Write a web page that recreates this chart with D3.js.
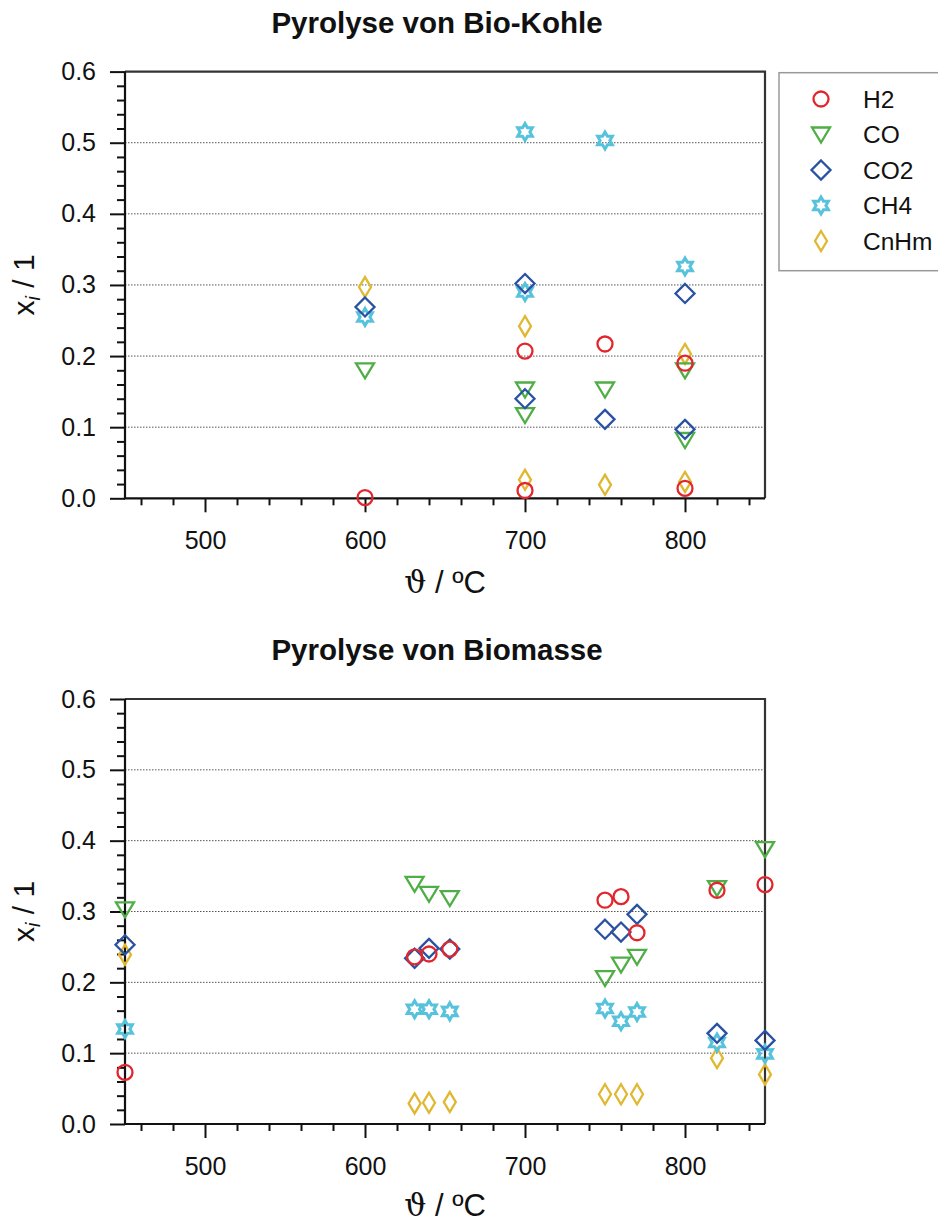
<!DOCTYPE html>
<html>
<head>
<meta charset="utf-8">
<script src="https://cdn.jsdelivr.net/npm/d3@7"></script>
<style>
  body { margin: 0; background: #fff; }
  text { font-family: Arial, "Liberation Sans", sans-serif; fill: #111; }
</style>
</head>
<body>
<div id="chart"></div>
<script>
// gas species and colours
var species = ['H2', 'CO', 'CO2', 'CH4', 'CnHm']
var colors = ['#e3262d', '#4fae45', '#2a52a3', '#56c2dc', '#e0b830']

var yTicks = [0.0, 0.1, 0.2, 0.3, 0.4, 0.5, 0.6]
var xTicks = [500, 600, 700, 800]

// Pyrolyse von Bio-Kohle  [temperature, x_i]
var kohleH2 = [[600, 0.001], [700, 0.207], [700, 0.011], [750, 0.217], [800, 0.190], [800, 0.014]]
var kohleCO = [[600, 0.180], [700, 0.153], [700, 0.117], [750, 0.153], [800, 0.180], [800, 0.082]]
var kohleCO2 = [[600, 0.269], [700, 0.302], [700, 0.140], [750, 0.111], [800, 0.288], [800, 0.097]]
var kohleCH4 = [[600, 0.255], [700, 0.515], [700, 0.290], [750, 0.503], [800, 0.326]]
var kohleCnHm = [[600, 0.297], [700, 0.242], [700, 0.026], [750, 0.019], [800, 0.203], [800, 0.023]]

// Pyrolyse von Biomasse
var massH2 = [[450, 0.073], [631, 0.236], [640, 0.240], [653, 0.247], [750, 0.316], [760, 0.321], [770, 0.270], [820, 0.330], [850, 0.338]]
var massCO = [[450, 0.303], [631, 0.339], [640, 0.325], [653, 0.319], [750, 0.206], [760, 0.225], [770, 0.236], [820, 0.333], [850, 0.388]]
var massCO2 = [[450, 0.253], [631, 0.234], [640, 0.248], [653, 0.247], [750, 0.275], [760, 0.271], [770, 0.296], [820, 0.128], [850, 0.118]]
var massCH4 = [[450, 0.134], [631, 0.162], [640, 0.162], [653, 0.159], [750, 0.163], [760, 0.145], [770, 0.158], [820, 0.115], [850, 0.099]]
var massCnHm = [[450, 0.239], [631, 0.029], [640, 0.030], [653, 0.031], [750, 0.042], [760, 0.042], [770, 0.042], [820, 0.093], [850, 0.070]]

var W = 938, H = 1225
var svg = d3.select('#chart').append('svg').attr('width', W).attr('height', H)

// marker shapes, centred on 0,0
function marker(name) {
  if (name == 'H2') return d3.symbol().type(d3.symbolCircle).size(Math.PI * 7.5 * 7.5)()
  if (name == 'CO') return 'M-9,-7L9,-7L0,8Z'
  if (name == 'CO2') return 'M0,-9.5L9.5,0L0,9.5L-9.5,0Z'
  if (name == 'CnHm') return 'M0,-10L6,0L0,10L-6,0Z'
  // hexagram
  var pts = []
  for (var k = 0; k < 12; k++) {
    var a = -Math.PI / 2 + k * Math.PI / 6
    var r = k % 2 == 0 ? 8.5 : 4.9
    pts.push([r * Math.cos(a), r * Math.sin(a)])
  }
  return 'M' + pts.join('L') + 'Z'
}

function panel(top, bottom, title, data, xlOff) {
  var left = 125, right = 765
  var x = d3.scaleLinear().domain([450, 850]).range([left, right])
  var y = d3.scaleLinear().domain([0, 0.6]).range([bottom, top])
  var g = svg.append('g')

  // dotted grid
  g.selectAll('line.grid').data(yTicks.slice(1, 6)).enter().append('line')
    .attr('x1', left).attr('x2', right)
    .attr('y1', function (d) { return y(d) }).attr('y2', function (d) { return y(d) })
    .attr('stroke', '#555').attr('stroke-width', 1).attr('stroke-dasharray', '1.5,1.5')

  // minor ticks
  var yMinor = d3.range(0, 0.601, 0.02).filter(function (d) { return Math.abs(d * 10 - Math.round(d * 10)) > 0.01 })
  g.append('g').attr('transform', 'translate(' + left + ',0)')
    .call(d3.axisLeft(y).tickValues(yMinor).tickSize(8).tickFormat(''))
  var xMinor = d3.range(460, 850, 20).filter(function (d) { return d % 100 != 0 })
  g.append('g').attr('transform', 'translate(0,' + bottom + ')')
    .call(d3.axisBottom(x).tickValues(xMinor).tickSize(7).tickFormat(''))

  // major ticks
  g.append('g').attr('class', 'ya').attr('transform', 'translate(' + left + ',0)')
    .call(d3.axisLeft(y).tickValues(yTicks).tickSize(15).tickPadding(14).tickFormat(d3.format('.1f')))
  g.append('g').attr('class', 'xa').attr('transform', 'translate(0,' + bottom + ')')
    .call(d3.axisBottom(x).tickValues(xTicks).tickSize(14).tickPadding(19).tickFormat(d3.format('d')))

  g.selectAll('.domain').remove()
  g.selectAll('.tick line').attr('stroke', '#111').attr('stroke-width', 2)
  g.selectAll('.tick text').attr('font-size', 25).attr('fill', '#222')
    .attr('font-family', 'Arial, "Liberation Sans", sans-serif')

  // frame
  g.append('path').attr('d', 'M' + left + ',' + top + 'L' + right + ',' + top + 'L' + right + ',' + bottom)
    .attr('fill', 'none').attr('stroke', '#333').attr('stroke-width', 2.2)
  g.append('path').attr('d', 'M' + left + ',' + top + 'L' + left + ',' + bottom + 'L' + right + ',' + bottom)
    .attr('fill', 'none').attr('stroke', '#111').attr('stroke-width', 2.2)

  // points, H2 drawn last
  var order = [4, 3, 1, 2, 0]
  order.forEach(function (i) {
    g.selectAll(null).data(data[i]).enter().append('path')
      .attr('d', marker(species[i]))
      .attr('transform', function (d) { return 'translate(' + x(d[0]) + ',' + y(d[1]) + ')' })
      .attr('fill', 'none').attr('stroke', colors[i])
      .attr('stroke-width', species[i] == 'CH4' ? 3 : 2.3)
      .attr('stroke-linejoin', 'miter')
  })

  // labels
  g.append('text').attr('x', 437).attr('y', top - 39).attr('text-anchor', 'middle')
    .attr('font-size', 29.5).attr('font-weight', 'bold').text(title)

  var xl = g.append('text').attr('x', 445).attr('y', bottom + xlOff).attr('text-anchor', 'middle')
    .attr('font-size', 31)
  xl.append('tspan').attr('font-family', '"DejaVu Serif", serif').text('ϑ')
  xl.append('tspan').text(' /  ºC')

  var yl = g.append('text').attr('transform', 'translate(34,' + ((top + bottom) / 2) + ') rotate(-90)')
    .attr('text-anchor', 'middle').attr('font-size', 30)
  yl.append('tspan').text('x')
  yl.append('tspan').attr('font-style', 'italic').attr('font-size', 20).attr('dy', 6).text('i')
  yl.append('tspan').attr('dy', -6).text(' / 1')
}

panel(71.6, 498.3, 'Pyrolyse von Bio-Kohle', [kohleH2, kohleCO, kohleCO2, kohleCH4, kohleCnHm], 95)
panel(699, 1124, 'Pyrolyse von Biomasse', [massH2, massCO, massCO2, massCH4, massCnHm], 92)

// legend
var lg = svg.append('g')
lg.append('rect').attr('x', 779).attr('y', 72.7).attr('width', 200).attr('height', 198)
  .attr('fill', '#fff').attr('stroke', '#999').attr('stroke-width', 1.5)
species.forEach(function (s, i) {
  var cy = 99 + i * 35.5
  lg.append('path').attr('d', marker(s)).attr('transform', 'translate(821,' + cy + ')')
    .attr('fill', 'none').attr('stroke', colors[i]).attr('stroke-width', s == 'CH4' ? 3 : 2.3)
  lg.append('text').attr('x', 863).attr('y', cy).attr('dy', '0.36em').attr('font-size', 24.5)
    .attr('fill', '#222').text(s)
})
</script>
</body>
</html>
